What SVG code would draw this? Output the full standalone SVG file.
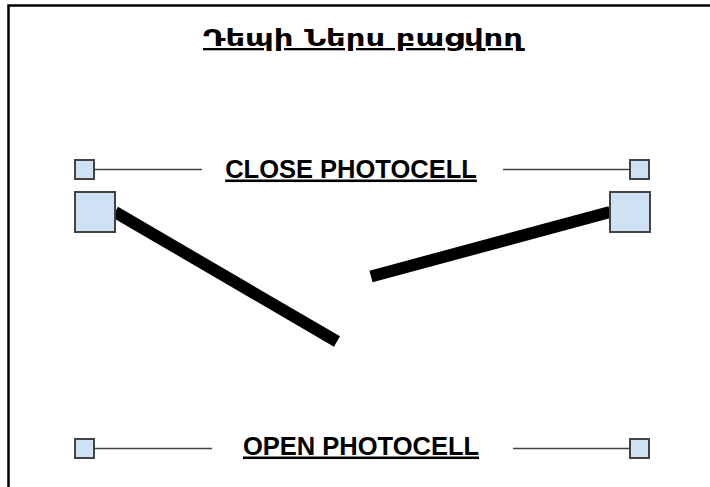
<svg xmlns="http://www.w3.org/2000/svg" width="710" height="487" viewBox="0 0 710 487">
<style>
.frame{fill:none;stroke:#000;stroke-width:2.5}
.sq{fill:#cfe2f3;stroke:#434343;stroke-width:2}
.thin{stroke:#434343;stroke-width:1.5;fill:none}
.bar{stroke:#000;stroke-width:12;stroke-linecap:butt;fill:none}
.lbl{font-family:"Liberation Sans",Arial,sans-serif;font-weight:bold;font-size:25.5px;text-decoration:underline;fill:#000}
.ttl{font-family:"DejaVu Sans","Noto Sans",sans-serif;font-weight:bold;font-size:23px;text-decoration:underline;fill:#000}
</style>
<rect width="710" height="487" fill="#fff"/>
<path class="frame" d="M8.5,487 V5.5 H710"/>
<g id="title"><text class="ttl" x="363" y="46" text-anchor="middle" textLength="320" lengthAdjust="spacingAndGlyphs">Դեպի Ներս բացվող</text></g>
<g id="connectors">
<line class="thin" x1="95" y1="169.5" x2="202" y2="169.5"/>
<line class="thin" x1="503" y1="169.5" x2="629" y2="169.5"/>
<line class="thin" x1="95" y1="448.5" x2="212" y2="448.5"/>
<line class="thin" x1="513" y1="448.5" x2="629" y2="448.5"/>
<line class="bar" x1="115" y1="212" x2="337" y2="341.5"/>
<line class="bar" x1="371" y1="276.5" x2="610" y2="212"/>
</g>
<g id="close-left-small"><rect class="sq" x="75" y="160" width="19" height="19"/></g>
<g id="close-right-small"><rect class="sq" x="630" y="160" width="19" height="19"/></g>
<g id="left-big"><rect class="sq" x="75" y="192" width="40" height="40"/></g>
<g id="right-big"><rect class="sq" x="610" y="192" width="40" height="40"/></g>
<g id="open-left-small"><rect class="sq" x="75" y="439" width="19" height="19"/></g>
<g id="open-right-small"><rect class="sq" x="630" y="439" width="19" height="19"/></g>
<g id="close-label"><text class="lbl" x="351" y="177.5" text-anchor="middle">CLOSE PHOTOCELL</text></g>
<g id="open-label"><text class="lbl" x="361" y="454.5" text-anchor="middle">OPEN PHOTOCELL</text></g>
</svg>
